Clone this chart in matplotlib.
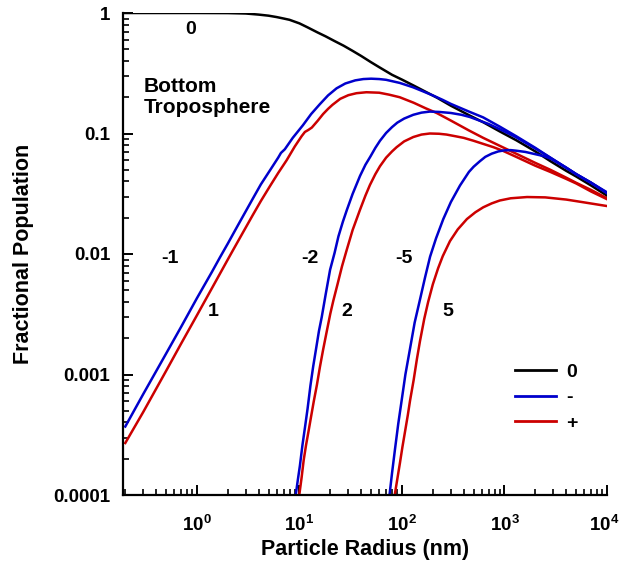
import matplotlib
matplotlib.use("Agg")
import matplotlib.pyplot as plt
import matplotlib.transforms as mtransforms
from matplotlib.ticker import FixedLocator, FixedFormatter, LogLocator, NullFormatter

plt.rcParams['font.family'] = ['Liberation Sans', 'DejaVu Sans']
plt.rcParams['font.weight'] = 'bold'
plt.rcParams['mathtext.fontset'] = 'custom'
plt.rcParams['mathtext.rm'] = 'Liberation Sans:bold'
plt.rcParams['mathtext.bf'] = 'Liberation Sans:bold'
plt.rcParams['mathtext.it'] = 'Liberation Sans:bold'

# ---- data (particle radius in nm, fractional population) ----
r_0 = [0.2, 1, 2, 3, 4, 5, 6, 7, 8, 10, 12, 15, 18, 22, 27, 33, 40, 50, 60, 80, 100, 130, 170, 220,
       300, 450, 620, 900, 1300, 2000, 2800, 4000, 5000, 7000, 10000]
f_0 = [1.0, 1.0, 0.998, 0.99, 0.97, 0.95, 0.925, 0.9, 0.878, 0.82, 0.76, 0.69, 0.64, 0.585, 0.535,
       0.485, 0.44, 0.39, 0.355, 0.307, 0.28, 0.25, 0.222, 0.198, 0.17, 0.142, 0.124, 0.104, 0.088,
       0.071, 0.059, 0.049, 0.044, 0.037, 0.0305]

r_m1 = [0.2, 0.3, 0.5, 0.7, 1.0, 1.4, 1.68, 2.0, 2.5, 3.0, 3.54, 4.2, 5.2, 6.2, 6.6, 7.2, 8.6, 10.8,
        13, 15.8, 19, 23, 28, 35, 42, 50, 60, 70, 95, 128, 160, 200, 250, 300, 450, 620, 900, 1300,
        2000, 2800, 4000, 5000, 7000, 10000]
f_m1 = [3.7e-4, 6.9e-4, 1.49e-3, 2.48e-3, 4.3e-3, 7.1e-3, 9.4e-3, 0.0122, 0.0172, 0.0227, 0.0292,
        0.0378, 0.05, 0.063, 0.069, 0.074, 0.092, 0.117, 0.145, 0.175, 0.207, 0.237, 0.26, 0.276,
        0.283, 0.285, 0.283, 0.279, 0.263, 0.242, 0.224, 0.207, 0.19, 0.176, 0.152, 0.136, 0.114,
        0.095, 0.076, 0.063, 0.052, 0.046, 0.039, 0.032]

r_p1 = [0.2, 0.3, 0.5, 0.7, 1.0, 1.4, 2.0, 2.24, 2.8, 3.5, 4.2, 5.2, 6.2, 7.5, 9, 10.5, 11.3, 12.2,
        13.2, 15, 17, 19, 21, 25, 30, 36, 45, 60, 75, 95, 130, 170, 218, 300, 450, 620, 900, 1300,
        2000, 2800, 4000, 5000, 7000, 10000]
f_p1 = [2.7e-4, 4.9e-4, 1.07e-3, 1.8e-3, 3.1e-3, 5.2e-3, 9.0e-3, 0.0107, 0.015, 0.021, 0.0275,
        0.037, 0.047, 0.06, 0.078, 0.095, 0.103, 0.107, 0.112, 0.127, 0.145, 0.16, 0.173, 0.194,
        0.208, 0.216, 0.22, 0.218, 0.21, 0.2, 0.18, 0.162, 0.148, 0.128, 0.106, 0.092, 0.079, 0.068,
        0.057, 0.05, 0.043, 0.039, 0.034, 0.029]

r_m2 = [8.9, 9.2, 9.6, 10.1, 10.7, 11.3, 12, 12.8, 13.6, 14.5, 15.5, 16.5, 18, 19.9, 22, 24, 26.5,
        29, 33, 39, 44, 49, 55, 61, 70, 80, 90, 105, 129, 155, 187, 230, 300, 380, 460, 570, 700,
        850, 1000, 1300, 2000, 2800, 4000, 5000, 7000, 10000]
f_m2 = [7e-5, 1e-4, 1.3e-4, 1.75e-4, 2.6e-4, 3.6e-4, 5.2e-4, 8.1e-4, 1.16e-3, 1.62e-3, 2.3e-3,
        3.0e-3, 4.6e-3, 7.4e-3, 0.0102, 0.014, 0.0185, 0.0232, 0.0315, 0.0445, 0.055, 0.064, 0.076,
        0.087, 0.101, 0.113, 0.123, 0.133, 0.143, 0.149, 0.152, 0.151, 0.148, 0.143, 0.137, 0.128,
        0.12, 0.111, 0.104, 0.093, 0.075, 0.063, 0.052, 0.046, 0.039, 0.032]

r_p2 = [9.6, 9.96, 10.5, 11, 11.6, 12.2, 13, 13.8, 14.8, 15.85, 17, 18.5, 20, 21.4, 23.5, 26, 28.9,
        33, 38.9, 44, 48.7, 55, 61, 70, 80, 88.7, 105, 129, 155, 187, 230, 272, 330, 400, 500, 620,
        780, 960, 1300, 2000, 2800, 4000, 5000, 7000, 10000]
f_p2 = [7e-5, 1e-4, 1.4e-4, 1.95e-4, 2.6e-4, 3.3e-4, 4.5e-4, 6.0e-4, 8.2e-4, 1.16e-3, 1.6e-3,
        2.3e-3, 3.2e-3, 4.1e-3, 5.6e-3, 7.9e-3, 0.0108, 0.0158, 0.0232, 0.0305, 0.0374, 0.046,
        0.0535, 0.063, 0.071, 0.077, 0.086, 0.0935, 0.098, 0.1, 0.0995, 0.098, 0.095, 0.092, 0.087,
        0.082, 0.077, 0.072, 0.064, 0.054, 0.048, 0.042, 0.0385, 0.033, 0.0285]

r_m5 = [73, 75.6, 80, 85.5, 92, 99.3, 108, 120, 133, 150, 168, 188, 215, 253, 300, 368, 450, 500,
        577, 650, 750, 870, 1000, 1150, 1300, 1600, 1900, 2400, 2800, 4000, 5000, 7000, 10000]
f_m5 = [7e-5, 1e-4, 1.52e-4, 2.4e-4, 3.9e-4, 6.1e-4, 1.0e-3, 1.65e-3, 2.7e-3, 4.2e-3, 6.4e-3,
        9.5e-3, 0.0135, 0.0195, 0.027, 0.037, 0.048, 0.053, 0.059, 0.064, 0.068, 0.071, 0.0725,
        0.0728, 0.072, 0.0703, 0.068, 0.065, 0.062, 0.052, 0.046, 0.039, 0.0325]

r_p5 = [82, 85, 90, 95.6, 101, 108, 114, 120, 130, 140, 150, 165, 180, 200, 225, 250, 294, 350, 430,
        520, 620, 750, 900, 1150, 1660, 2500, 4000, 6000, 10000]
f_p5 = [7e-5, 1e-4, 1.35e-4, 1.85e-4, 2.5e-4, 3.5e-4, 4.6e-4, 6.1e-4, 9.0e-4, 1.35e-3, 1.9e-3,
        2.9e-3, 4.0e-3, 5.6e-3, 7.6e-3, 9.6e-3, 0.0128, 0.016, 0.0195, 0.0222, 0.0244, 0.0263,
        0.0278, 0.029, 0.0297, 0.0295, 0.0283, 0.0268, 0.025]

x_ticks = [1, 10, 100, 1000, 10000]
x_ticklabels = [r'$\mathbf{10^{0}}$', r'$\mathbf{10^{1}}$', r'$\mathbf{10^{2}}$', r'$\mathbf{10^{3}}$', r'$\mathbf{10^{4}}$']
y_ticks = [1e-4, 1e-3, 1e-2, 1e-1, 1]
y_ticklabels = ['0.0001', '0.001', '0.01', '0.1', '1']

BLACK = '#000000'
BLUE = '#0000cc'
RED = '#cc0000'

W, H = 621, 569
fig = plt.figure(figsize=(W / 100, H / 100), dpi=100)
ax = fig.add_axes([123 / W, 1 - 495 / H, (607 - 123) / W, (495 - 13) / H])

lw = 1.8
ax.plot(r_0, f_0, color=BLACK, lw=lw, label='0', solid_joinstyle='round')
ax.plot(r_m1, f_m1, color=BLUE, lw=lw, label='-', solid_joinstyle='round')
ax.plot(r_p1, f_p1, color=RED, lw=lw, label='+', solid_joinstyle='round')
ax.plot(r_m2, f_m2, color=BLUE, lw=lw, solid_joinstyle='round')
ax.plot(r_p2, f_p2, color=RED, lw=lw, solid_joinstyle='round')
ax.plot(r_m5, f_m5, color=BLUE, lw=lw, solid_joinstyle='round')
ax.plot(r_p5, f_p5, color=RED, lw=lw, solid_joinstyle='round')

ax.set_xscale('log')
ax.set_yscale('log')
ax.set_xlim(0.19, 1e4)
ax.set_ylim(1e-4, 1)

for s in ['top', 'right']:
    ax.spines[s].set_visible(False)
for s in ['left', 'bottom']:
    ax.spines[s].set_linewidth(1.6)

ax.xaxis.set_major_locator(FixedLocator(x_ticks))
ax.xaxis.set_major_formatter(FixedFormatter(x_ticklabels))
ax.xaxis.set_minor_locator(LogLocator(base=10, subs=range(2, 10), numticks=20))
ax.xaxis.set_minor_formatter(NullFormatter())
ax.yaxis.set_major_locator(FixedLocator(y_ticks))
ax.yaxis.set_major_formatter(FixedFormatter(y_ticklabels))
ax.yaxis.set_minor_locator(LogLocator(base=10, subs=range(2, 10), numticks=20))
ax.yaxis.set_minor_formatter(NullFormatter())

ax.tick_params(which='major', direction='in', length=7, width=1.4, top=False, right=False)
ax.tick_params(which='minor', direction='in', length=4.5, width=1.2, top=False, right=False)
ax.tick_params(axis='x', which='major', labelsize=13.5, pad=14)
ax.tick_params(axis='y', which='major', labelsize=13.5, pad=9)
for t in ax.get_yticklabels():
    t.set_fontweight('bold')

# keep the last x tick label inside the canvas
fig.canvas.draw()
last = ax.get_xticklabels()[-1]
last.set_transform(last.get_transform() + mtransforms.ScaledTranslation(-3 / 100, 0, fig.dpi_scale_trans))

ax.set_xlabel('Particle Radius (nm)', fontsize=15.5, fontweight='bold', labelpad=3)
ax.set_ylabel('Fractional Population', fontsize=15.5, fontweight='bold', labelpad=14)

txt = dict(fontsize=14, fontweight='bold', ha='center', va='center', transform=fig.transFigure)
def fx(px):
    return px / W
def fy(py):
    return 1 - py / H

fig.text(fx(191), fy(30), '0', **txt)
fig.text(fx(144), fy(97), 'Bottom\nTroposphere', fontsize=15, fontweight='bold', ha='left', va='center',
         linespacing=1.1, transform=fig.transFigure)
fig.text(fx(170), fy(258), '-1', **txt)
fig.text(fx(213), fy(312), '1', **txt)
fig.text(fx(310), fy(258), '-2', **txt)
fig.text(fx(347), fy(312), '2', **txt)
fig.text(fx(404), fy(258), '-5', **txt)
fig.text(fx(448), fy(312), '5', **txt)

leg = ax.legend(loc='upper left', bbox_to_anchor=(fx(515), fy(363)), bbox_transform=fig.transFigure,
                frameon=False, borderpad=0, borderaxespad=0, handlelength=2.1, handletextpad=0.55,
                labelspacing=0.42, prop={'weight': 'bold', 'size': 14})
for h in leg.get_lines():
    h.set_linewidth(2.0)

fig.savefig('out.png', dpi=100)
